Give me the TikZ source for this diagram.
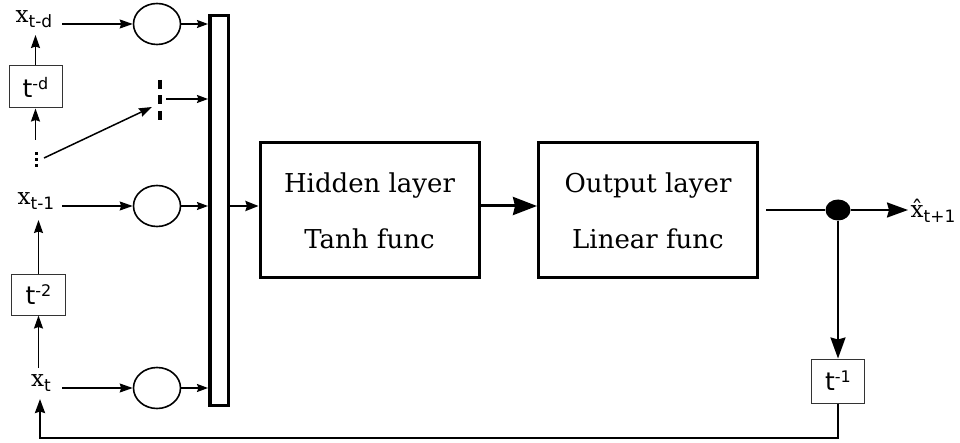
\documentclass[tikz,border=0pt]{standalone}
\usepackage{fontspec}
\setmainfont{DejaVu Serif}
\newfontfamily\ssf{DejaVu Sans}
\usetikzlibrary{arrows.meta,shapes.geometric}
\newcommand\xlab[2]{{\fontsize{23}{23}\selectfont #1}\raisebox{-5pt}{\ssf\fontsize{17}{17}\selectfont #2}}
\newcommand\tlab[1]{{\ssf\fontsize{25}{25}\selectfont t\raisebox{8pt}{\fontsize{16}{16}\selectfont #1}}}
\begin{document}
\begin{tikzpicture}[x=1pt,y=-1pt,
  lbl/.style={inner sep=0pt},
  thinarrow/.style={line width=1.5pt,-{Stealth[length=13pt,width=9pt,inset=1.5pt]}},
  smallarrow/.style={line width=1.5pt,-{Stealth[length=11pt,width=8pt,inset=1.5pt]}},
  bigarrow/.style={line width=2.2pt,-{Stealth[length=21pt,width=15pt,inset=2pt]}},
  thickarrow/.style={line width=3pt,-{Stealth[length=24pt,width=18pt,inset=2pt]}},
  ell/.style={draw,line width=1.6pt,ellipse,minimum width=47pt,minimum height=41pt,inner sep=0pt},
  tbox/.style={draw,line width=1pt,draw=black!80,inner sep=0pt},
  layer/.style={draw,line width=3pt,minimum width=219pt,minimum height=135pt,align=center,
    font=\fontsize{26}{56}\selectfont,inner sep=0pt},
]
\useasboundingbox (0,0) rectangle (960,443);

% labels
\node[lbl] (xd) at (34,19) {\xlab{x}{t-d}};
\node[lbl] (x1) at (36,201) {\xlab{x}{t-1}};
\node[lbl] (xt) at (41,383) {\xlab{x}{t}};
\node[lbl] (xh) at (933,211) {\xlab{\^x}{t+1}};

% delay boxes
\node[tbox,minimum width=53pt,minimum height=42pt] (td) at (35.5,87) {\tlab{-d}};
\node[tbox,minimum width=54pt,minimum height=40pt] (t2) at (38.5,295) {\tlab{-2}};
\node[tbox,minimum width=53pt,minimum height=44pt] (t1) at (838,381) {\tlab{-1}};

% dots
\fill (34.5,152) rectangle (37.5,155);
\fill (34.5,158) rectangle (37.5,161);
\fill (34.5,164) rectangle (37.5,167);
\draw[line width=4pt,dash pattern=on 9pt off 6.5pt] (160,80) -- (160,120);

% circles
\node[ell] (c1) at (157,24) {};
\node[ell] (c2) at (157,206) {};
\node[ell] (c3) at (157,388) {};

% bar
\node[draw,line width=3.5pt,minimum width=18.5pt,minimum height=390pt,inner sep=0pt] (bar) at (219,210.5) {};

% layers
\node[layer] (hid) at (369.5,210.5) {Hidden layer\\Tanh func};
\node[layer] (out) at (648,210.5) {Output layer\\Linear func};

% output dot
\node[fill,ellipse,minimum width=25pt,minimum height=21pt,inner sep=0pt] (dot) at (838,210) {};

% arrows left
\draw[thinarrow] (62,24) -- (c1.west);
\draw[thinarrow] (62,206) -- (c2.west);
\draw[thinarrow] (62,388) -- (c3.west);
\draw[smallarrow] (c1.east) -- (c1 -| bar.west);
\draw[smallarrow] (c2.east) -- (c2 -| bar.west);
\draw[smallarrow] (c3.east) -- (c3 -| bar.west);
\draw[smallarrow] (166,99) -- (bar.west |- 0,99);

% vertical chains
\draw[thinarrow] (td.north) -- (td.north |- 0,35);
\draw[thinarrow] (td.south |- 0,140) -- (td.south);
\draw[thinarrow] (44,158) -- (152,107);
\draw[thinarrow] (t2.north) -- (t2.north |- 0,220);
\draw[thinarrow] (t2.south |- 0,368) -- (t2.south);

% to layers
\draw[line width=2.2pt,-{Stealth[length=13pt,width=10pt,inset=1.5pt]}] (c2 -| bar.east) -- (c2 -| hid.west);
\draw[thickarrow] (c2 -| hid.east) -- (c2 -| out.west);

% output
\draw[line width=2.2pt] (766,210) -- (dot);
\draw[bigarrow] (dot) -- (908,210);
\draw[bigarrow] (dot) -- (t1.north);

% feedback
\draw[line width=2.2pt,-{Stealth[length=14pt,width=10pt,inset=1.5pt]}] (t1.south) -- (t1.south |- 0,438) -- (40,438) -- (40,399);
\end{tikzpicture}
\end{document}
